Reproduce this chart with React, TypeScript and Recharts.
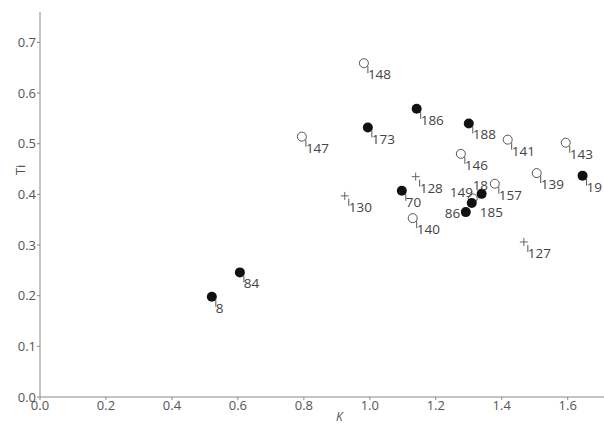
import React from 'react';
import { ScatterChart, Scatter, XAxis, YAxis } from 'recharts';

// Filled circles
const filledIds = ['8', '84', '173', '186', '188', '70', '19', '185', '86', '18'];
const filledK = [0.521, 0.606, 0.994, 1.142, 1.300, 1.097, 1.645, 1.309, 1.291, 1.339];
const filledTi = [0.198, 0.246, 0.532, 0.569, 0.540, 0.407, 0.437, 0.383, 0.365, 0.401];

// Open circles
const openIds = ['148', '147', '146', '141', '143', '139', '157', '140', '149'];
const openK = [0.982, 0.794, 1.276, 1.418, 1.594, 1.506, 1.379, 1.130, 1.312];
const openTi = [0.659, 0.514, 0.480, 0.508, 0.502, 0.442, 0.421, 0.353, 0.392];

// Crosses
const crossIds = ['130', '128', '127'];
const crossK = [0.924, 1.139, 1.467];
const crossTi = [0.397, 0.435, 0.306];

const xTicks = [0, 0.2, 0.4, 0.6, 0.8, 1.0, 1.2, 1.4, 1.6];
const yTicks = [0, 0.1, 0.2, 0.3, 0.4, 0.5, 0.6, 0.7];

// label placement tweaks for crowded points
const labelOffsets: Record<string, { dx: number; dy: number; lead: boolean }> = {
  '18': { dx: -9, dy: -4, lead: false },
  '86': { dx: -21, dy: 6, lead: false },
  '185': { dx: 8, dy: 14, lead: false },
  '149': { dx: -23, dy: -1, lead: false },
};

const build = (ids: string[], k: number[], ti: number[]) =>
  ids.map((id, i) => ({ id, K: k[i], Ti: ti[i] }));

const filledData = build(filledIds, filledK, filledTi);
const openData = build(openIds, openK, openTi);
const crossData = build(crossIds, crossK, crossTi);

const FONT = '"Open Sans", "Noto Sans", sans-serif';

const Label = ({ cx, cy, id }: { cx: number; cy: number; id: string }) => {
  const o = labelOffsets[id] || { dx: 4, dy: 16, lead: true };
  return (
    <g>
      {o.lead && (
        <line x1={cx + 4} y1={cy + 3} x2={cx + 4} y2={cy + 10} stroke="#555" strokeWidth={1} />
      )}
      <text x={cx + o.dx} y={cy + o.dy} fontSize={13.5} fontFamily={FONT} fill="#444">
        {id}
      </text>
    </g>
  );
};

const makeShape = (kind: 'filled' | 'open' | 'cross') => (props: any) => {
  const { cx, cy, payload } = props;
  let marker;
  if (kind === 'filled') marker = <circle cx={cx} cy={cy} r={5} fill="#111" />;
  else if (kind === 'open')
    marker = <circle cx={cx} cy={cy} r={4.5} fill="#fff" stroke="#555" strokeWidth={1} />;
  else
    marker = (
      <g stroke="#666" strokeWidth={1}>
        <line x1={cx - 4} y1={cy} x2={cx + 4} y2={cy} />
        <line x1={cx} y1={cy - 4} x2={cx} y2={cy + 4} />
      </g>
    );
  return (
    <g>
      {marker}
      <Label cx={cx} cy={cy} id={payload.id} />
    </g>
  );
};

const tickStyle = { fontSize: 13, fontFamily: FONT, fill: '#555' };

export default function App() {
  return (
    <div style={{ position: 'absolute', left: 0, top: 0, width: 604, height: 425, background: '#fff' }}>
      <ScatterChart width={604} height={425} margin={{ top: 12, right: 0, bottom: 0, left: 10 }}>
        <XAxis
          type="number"
          dataKey="K"
          domain={[0, 1.71]}
          ticks={xTicks}
          tickFormatter={(v: number) => v.toFixed(1)}
          allowDataOverflow
          height={28}
          stroke="#888"
          tick={tickStyle}
          tickSize={3}
          tickMargin={1}
          label={{
            content: (p: any) => {
              const vb = p.viewBox;
              return (
                <text x={vb.x + vb.width * 0.525} y={vb.y + 24} fontSize={12} fontFamily={FONT} fill="#555" fontStyle="italic">
                  K
                </text>
              );
            },
          }}
        />
        <YAxis
          type="number"
          dataKey="Ti"
          domain={[0, 0.76]}
          ticks={yTicks}
          tickFormatter={(v: number) => v.toFixed(1)}
          allowDataOverflow
          width={30}
          stroke="#888"
          tick={tickStyle}
          tickSize={3}
          tickMargin={1}
          label={{
            content: (p: any) => {
              const vb = p.viewBox;
              const x = 25;
              const y = vb.y + vb.height * 0.41;
              return (
                <text x={x} y={y} fontSize={13} fontFamily={FONT} fill="#555" textAnchor="middle" transform={`rotate(-90 ${x} ${y})`}>
                  Ti
                </text>
              );
            },
          }}
        />
        <Scatter data={openData} shape={makeShape('open')} isAnimationActive={false} />
        <Scatter data={crossData} shape={makeShape('cross')} isAnimationActive={false} />
        <Scatter data={filledData} shape={makeShape('filled')} isAnimationActive={false} />
      </ScatterChart>
    </div>
  );
}
